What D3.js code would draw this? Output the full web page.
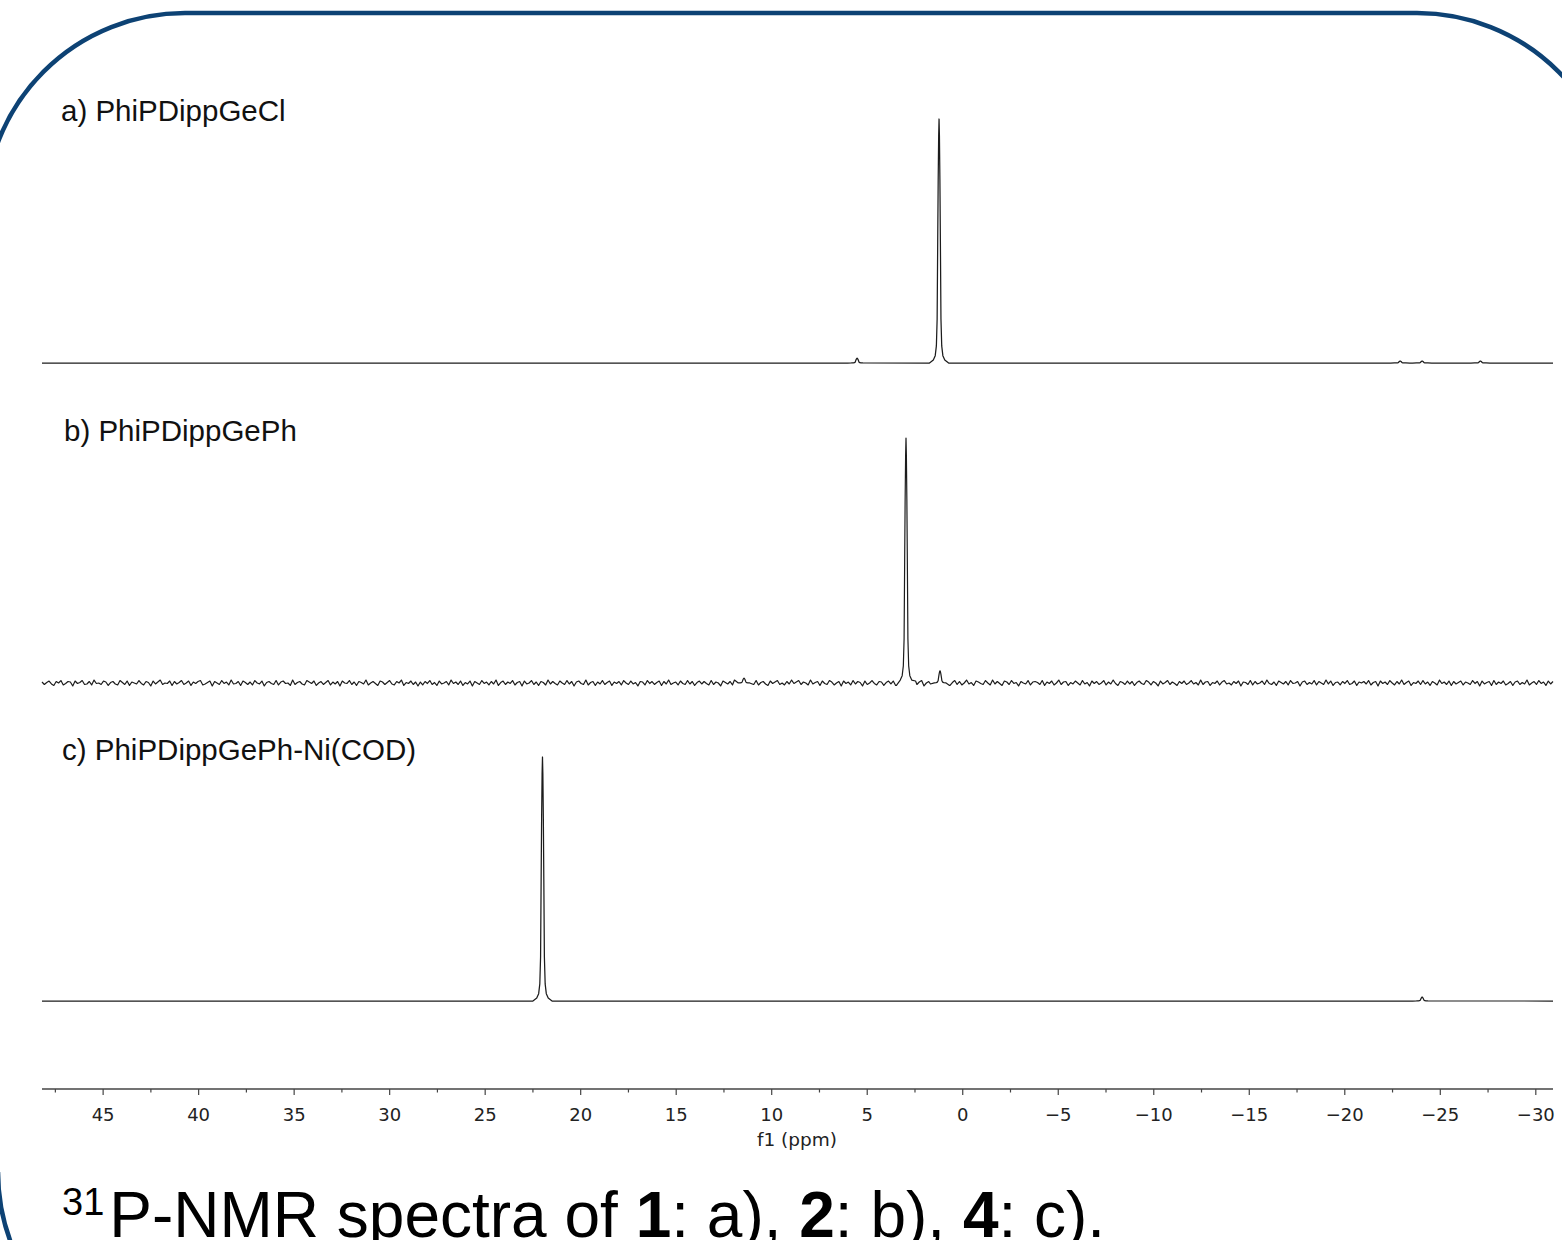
<!DOCTYPE html>
<html><head><meta charset="utf-8">
<script src="https://cdn.jsdelivr.net/npm/d3@7"></script>
<style>body{margin:0;background:#fff}svg{display:block}</style>
</head><body><svg id="c" width="1562" height="1240"></svg>
<script>
// ---------------- data ----------------
const ppmDomain = [48.2, -30.9];
const majorTicks = [45,40,35,30,25,20,15,10,5,0,-5,-10,-15,-20,-25,-30];
const minorTicks = [47.5,42.5,37.5,32.5,27.5,22.5,17.5,12.5,7.5,2.5,-2.5,-7.5,-12.5,-17.5,-22.5,-27.5];
const axisTitle = "f1 (ppm)";
const spectrumLabels = ["a) PhiPDippGeCl", "b) PhiPDippGePh", "c) PhiPDippGePh-Ni(COD)"];
// peaks: [ppm, intensity relative to tallest peak]
const peaksA = [[5.53,0.02],[1.24,1.0],[-22.9,0.008],[-24.05,0.008],[-27.1,0.008]];
const peaksB = [[11.45,0.02],[2.97,1.0],[1.19,0.05]];
const peaksC = [[22.0,1.0],[-24.05,0.016]];
// line shape read from the peaks (offset in ppm, relative height)
const profileOffsets = [-0.5,-0.3,-0.2,-0.14,-0.1,-0.07,-0.045,-0.02,0,0.02,0.045,0.07,0.1,0.14,0.2,0.3,0.5];
const profileRel     = [0,0.012,0.03,0.07,0.18,0.5,0.75,0.93,1.0,0.93,0.75,0.5,0.18,0.07,0.03,0.012,0];
// baseline noise of spectrum b, % of tallest peak, left to right
const noiseB = [
0.4,-0.6,0.2,0.8,-0.4,-1.0,0.6,0.0,1.0,-0.8,-0.2,0.6,0.4,-1.2,0.8,-0.2,0.2,1.0,-0.6,-0.4,
0.6,-0.8,1.2,-0.2,0.0,-0.6,0.8,0.4,-1.0,0.2,0.6,-0.4,-0.8,1.0,0.2,-0.6,0.8,-1.0,0.4,0.0,
-0.4,1.0,-0.2,-0.8,0.6,0.2,-1.2,0.8,-0.4,0.4,1.2,-0.6,0.0,-0.2,0.8,-1.0,0.6,-0.4,0.2,1.0,
-0.6,0.0,0.8,-1.0,0.4,-0.2,0.6,1.0,-0.8,-0.4,0.2,0.8,-1.2,0.6,0.0,-0.6,1.0,-0.2,0.4,-0.8,
1.2,-0.4,-0.2,0.6,-1.0,0.8,0.2,-0.6,0.4,-0.8,1.0,0.0,-0.4,0.8,-1.2,0.2,0.6,-0.2,-0.6,1.0,
-0.8,0.4,0.8,-0.2,0.0,-1.0,1.2,-0.6,0.2,0.6,-0.4,-0.8,1.0,0.4,-0.2,0.8,-1.0,0.0,0.6,-0.6,
0.2,1.0,-0.8,0.4,-0.4,0.6,-1.2,0.8,0.0,-0.2,1.0,-0.6,0.4,-1.0,0.6,0.2,-0.4,1.2,-0.8,0.0,
0.6,-0.2,-1.0,0.8,0.4,-0.6,0.2,1.0,-0.4,-0.8,0.6,0.0,1.2,-1.0,0.2,-0.2,0.8,-0.6,0.4,-1.2,
0.4,-0.8,0.6,-0.2,1.0,-0.6,0.2,-1.0,0.8,-0.4,0.0,0.6,-0.8,1.2,-0.2,0.4,-0.6,0.8,-1.0,0.2,
-0.4,0.8,-1.2,0.6,0.0,-0.6,1.0,-0.2,0.4,-0.8,0.6,-0.4,1.2,-1.0,0.2,0.8,-0.6,0.4,-0.2,1.0,
-0.8,0.2,0.6,-1.2,0.8,-0.4,0.0,1.0,-0.6,0.4,-1.0,0.6,0.2,-0.8,1.2,-0.4,0.6,-0.2,-0.8,0.8,
0.0,-0.6,1.0,-0.4,0.6,-1.2,0.4,0.8,-0.2,-0.6,1.2,-0.8,0.2,0.6,-1.0,0.4,-0.4,1.0,-0.6,0.2,
0.8,-1.0,0.4,-0.2,0.6,-0.8,1.0,0.0,-0.6,0.8,-0.4,0.2,-1.2,0.6,0.4,-0.8,1.0,-0.2,0.6,-0.6,
0.2,0.8,-1.0,0.6,-0.4,1.2,-0.6,0.0,0.4,-0.8,0.8,-0.2,-0.6,1.0,-0.4,0.6,-1.0,0.2,0.8,-0.4,
0.6,-0.2,-0.8,1.0,-0.6,0.4,0.0,-1.2,0.8,0.2,-0.4,0.6,-0.8,1.2,-0.2,-0.6,0.4,0.8,-1.0,0.0,
0.4,-0.6,1.0,-0.8,0.2,0.6,-0.4,-1.0,0.8,-0.2,0.4,1.0,-0.6,0.0,-0.8,0.6,-0.4,1.2,-0.2,0.4,
1.0,-0.6,0.4,0.0,-0.8,1.2,-0.4,0.2,0.6,-1.0,0.8,-0.2,-0.6,1.0,0.4,-0.8,0.0,0.6,-1.2,0.8,
-0.2,0.4,-0.8,1.0,-0.4,0.6,0.2,-1.2,0.8,-0.6,0.0,1.0,-0.2,-0.8,0.6,0.4,-1.0,0.2,0.8,-0.4,
0.8,-1.0,0.0,0.6,-0.4,1.2,-0.8,0.2,-0.2,0.8,-0.6,0.4,1.0,-1.2,0.0,0.6,-0.4,-0.8,1.0,0.2,
-0.6,0.8,-0.2,0.4,-1.0,0.2,1.0,-0.6,0.6,-0.8,0.0,1.2,-0.4,0.2,-1.0,0.8,0.4,-0.2,-0.6,1.0,
0.0,-0.8,1.2,-0.4,0.6,-0.2,-1.0,0.8,0.4,-0.6,1.0,-0.2,0.2,-1.2,0.6,0.0,-0.4,1.0,-0.8,0.4,
0.6,0.2,-0.6,1.0,-1.0,0.4,-0.2,0.8,-0.8,0.0,1.2,-0.6,0.4,0.6,-1.0,0.2,-0.4,0.8,0.0,-0.8,
1.0,-0.4,0.2,-1.2,0.8,-0.2,0.6,-0.6,0.0,1.0,-0.8,0.4,-0.4,1.2,-0.2,-1.0,0.6,0.2,-0.6,0.8,
-0.4,0.6,-1.0,0.2,0.8,-0.2,-0.6,1.0,0.4,-0.8,0.6,0.0,-1.2,0.8,-0.4,0.2,1.0,-0.6,0.4,-0.2,
-1.0,0.6,-0.2,0.8,-0.6,0.0,1.0,-0.4,0.2,-0.8,1.2,-0.6,0.4,0.6,-1.0,0.2,-0.2,0.8,-0.8,0.4,
1.0,-0.4,0.0,-0.8,0.6,-0.2,0.8,-1.2,0.4,0.2,-0.6,1.0,-0.8,0.6,-0.4,0.0,0.8,-0.6,1.2,-0.2,
-0.6,0.4,-1.0,0.8,0.2,-0.4,0.6,-0.8,1.0,-0.2,0.0,0.6,-1.2,0.4,0.8,-0.6,0.2,-0.4,1.0,-0.8,
0.6,0.0,-0.6,1.2,-0.4,0.8,-1.0,0.2,0.4,-0.8,0.6,-0.2,1.0,-0.6,-0.2,0.8,-1.0,0.4,0.0,0.6,
-0.4,1.0,-0.8,0.2,0.6,-1.2,0.8,-0.2,0.4,-0.6,1.0,0.0,-0.8,0.6,-0.4,1.2,-0.6,0.2,0.8,-1.0,
0.2,-0.2,0.8,-0.6,1.0,-0.4,0.4,-1.0,0.6,0.0,-0.8,1.2,-0.2,0.4,-0.6,0.8,-1.0,0.6,-0.4,0.2,
0.8,-0.8,0.4,0.0,-0.6,1.0,-0.2,0.6,-1.2,0.8,-0.4,0.2,0.6,-1.0,1.0,-0.6,0.4,-0.2,0.8,-0.8,
-0.2,0.6,-1.0,0.4,0.8,-0.6,0.2,-0.4,1.2,-0.8,0.0,0.6,-0.6,1.0,-0.2,0.4,-1.0,0.8,-0.4,0.6
];
const captionParts = [
  {t:"31", sup:true}, {t:"P-NMR spectra of "}, {t:"1", b:true}, {t:": a), "},
  {t:"2", b:true}, {t:": b), "}, {t:"4", b:true}, {t:": c)."}
];

// ---------------- drawing ----------------
const svg = d3.select("#c");
svg.append("rect").attr("width",1562).attr("height",1240).attr("fill","#fff");

// frame (rounded panel border)
const frameColor = "#0d4274";
svg.append("path").attr("d","M -15,213 A 200,200 0 0 1 185,13 H 1417 A 200,200 0 0 1 1617,213")
  .attr("fill","none").attr("stroke",frameColor).attr("stroke-width",4.5);
svg.append("path").attr("d","M -2,1172 A 200,200 0 0 0 198,1372")
  .attr("fill","none").attr("stroke",frameColor).attr("stroke-width",4.5);

const x = d3.scaleLinear().domain(ppmDomain).range([42,1553]);

function buildSpectrum(peaks, noise){
  const pts = [];
  const span = d3.max(profileOffsets);
  let nearestNoise = p => 0;
  if (noise){
    const step = (ppmDomain[0]-ppmDomain[1])/(noise.length-1);
    const grid = noise.map((v,i)=>[ppmDomain[0]-i*step, v/100]);
    grid.forEach(g=>{ if(!peaks.some(pk=>Math.abs(g[0]-pk[0])<=span)) pts.push(g); });
    nearestNoise = p => grid[Math.max(0,Math.min(grid.length-1,Math.round((ppmDomain[0]-p)/step)))][1];
  } else {
    pts.push([ppmDomain[0],0],[ppmDomain[1],0]);
  }
  peaks.forEach(pk=>{
    profileOffsets.forEach((o,i)=>{
      const p = pk[0]+o;
      const base = (i===0||i===profileOffsets.length-1) ? nearestNoise(p) : 0;
      pts.push([p, pk[1]*profileRel[i] + base]);
    });
  });
  pts.sort((a,b)=>b[0]-a[0]);
  return pts;
}

const spectra = [
  {label:spectrumLabels[0], pts:buildSpectrum(peaksA,null), base:363, top:119, lx:61, ly:121, w:1.25},
  {label:spectrumLabels[1], pts:buildSpectrum(peaksB,noiseB), base:683, top:438, lx:64, ly:441, w:1.2},
  {label:spectrumLabels[2], pts:buildSpectrum(peaksC,null), base:1001, top:757, lx:62, ly:760, w:1.25}
];

spectra.forEach(s=>{
  const y = d3.scaleLinear().domain([0,1]).range([s.base,s.top]);
  const line = d3.line().x(d=>x(d[0])).y(d=>y(d[1]));
  svg.append("path").datum(s.pts).attr("d",line).attr("fill","none")
    .attr("stroke","#1c1c1c").attr("stroke-width",s.w).attr("stroke-linejoin","round");
  svg.append("text").attr("x",s.lx).attr("y",s.ly).text(s.label)
    .attr("font-family","'Liberation Sans', Arial, sans-serif").attr("font-size",29.5).attr("fill","#111");
});

// axis
const axisY = 1089;
const ax = svg.append("g");
ax.append("line").attr("x1",42).attr("x2",1553).attr("y1",axisY).attr("y2",axisY)
  .attr("stroke","#444").attr("stroke-width",1.3);
ax.selectAll(".maj").data(majorTicks).enter().append("line")
  .attr("x1",d=>x(d)).attr("x2",d=>x(d)).attr("y1",axisY).attr("y2",axisY+6)
  .attr("stroke","#444").attr("stroke-width",1.2);
ax.selectAll(".min").data(minorTicks).enter().append("line")
  .attr("x1",d=>x(d)).attr("x2",d=>x(d)).attr("y1",axisY).attr("y2",axisY+3.5)
  .attr("stroke","#444").attr("stroke-width",1.2);
ax.selectAll(".lab").data(majorTicks).enter().append("text")
  .attr("x",d=>x(d)).attr("y",1121).attr("text-anchor","middle")
  .attr("font-family","'DejaVu Sans', sans-serif").attr("font-size",18).attr("fill","#222")
  .text(d=> d<0 ? "\u2212"+Math.abs(d) : String(d));
ax.append("text").attr("x",797).attr("y",1146).attr("text-anchor","middle")
  .attr("font-family","'DejaVu Sans', sans-serif").attr("font-size",18.5).attr("fill","#222")
  .text(axisTitle);

// caption (cut at the bottom edge, as in the reference)
const cap = svg.append("text").attr("x",62).attr("y",1237)
  .attr("font-family","'Liberation Sans', Arial, sans-serif").attr("font-size",64).attr("fill","#000");
captionParts.forEach((p,i)=>{
  const ts = cap.append("tspan").text(p.t);
  if (p.sup) ts.attr("font-size",38).attr("dy",-22);
  else if (i===1) ts.attr("dy",22).attr("dx",5);
  if (p.b) ts.attr("font-weight","bold");
});
</script></body></html>
